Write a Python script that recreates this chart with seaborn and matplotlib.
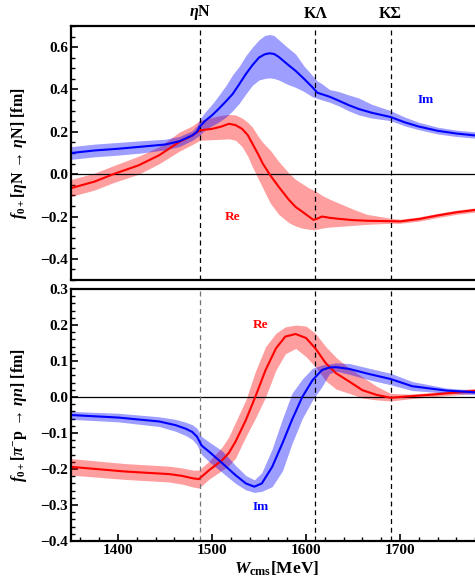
import numpy as np
import pandas as pd
import seaborn as sns
import matplotlib.pyplot as plt
import matplotlib.transforms as mtransforms
from matplotlib.ticker import MultipleLocator

# ---- top panel: f0+ [eta N -> eta N] ----
w_im_top = [1350, 1375, 1400, 1425, 1450, 1465, 1479, 1484, 1487, 1493, 1500, 1507, 1515,
            1522, 1529, 1536, 1543, 1550, 1556, 1561, 1566, 1571, 1580, 1589, 1598, 1607,
            1612, 1616, 1625, 1635, 1645, 1656, 1670, 1690, 1705, 1720, 1740, 1760, 1780, 1800]
im_top = [0.100, 0.112, 0.120, 0.130, 0.140, 0.155, 0.183, 0.200, 0.225, 0.253, 0.278, 0.308,
          0.345, 0.379, 0.425, 0.473, 0.515, 0.551, 0.566, 0.571, 0.568, 0.554, 0.520, 0.488,
          0.450, 0.410, 0.385, 0.379, 0.366, 0.347, 0.327, 0.308, 0.290, 0.270, 0.245, 0.225,
          0.205, 0.192, 0.183, 0.176]
im_top_lo = [0.070, 0.082, 0.090, 0.100, 0.115, 0.130, 0.160, 0.175, 0.185, 0.210, 0.228, 0.246,
             0.270, 0.300, 0.335, 0.379, 0.420, 0.445, 0.452, 0.455, 0.452, 0.445, 0.425, 0.410,
             0.390, 0.365, 0.358, 0.352, 0.340, 0.322, 0.300, 0.280, 0.265, 0.253, 0.228, 0.210,
             0.190, 0.178, 0.170, 0.163]
im_top_hi = [0.130, 0.142, 0.150, 0.158, 0.165, 0.178, 0.205, 0.230, 0.260, 0.295, 0.330, 0.371,
             0.420, 0.470, 0.510, 0.560, 0.600, 0.635, 0.655, 0.660, 0.655, 0.635, 0.600, 0.567,
             0.510, 0.465, 0.440, 0.430, 0.400, 0.390, 0.375, 0.360, 0.330, 0.300, 0.270, 0.245,
             0.222, 0.208, 0.200, 0.190]

w_re_top = [1350, 1375, 1395, 1422, 1444, 1465, 1479, 1487, 1500, 1510, 1518, 1525, 1532, 1538,
            1543, 1549, 1554, 1562, 1571, 1582, 1589, 1596, 1603, 1608, 1612, 1617, 1625, 1635,
            1650, 1665, 1690, 1700, 1720, 1740, 1760, 1780, 1800]
re_top = [-0.066, -0.035, 0.000, 0.042, 0.090, 0.152, 0.183, 0.207, 0.214, 0.225, 0.238, 0.232,
          0.214, 0.185, 0.144, 0.095, 0.050, -0.005, -0.060, -0.122, -0.155, -0.177, -0.200,
          -0.216, -0.210, -0.200, -0.206, -0.211, -0.217, -0.220, -0.222, -0.223, -0.212,
          -0.195, -0.180, -0.169, -0.160]
re_top_lo = [-0.105, -0.075, -0.040, 0.000, 0.050, 0.108, 0.140, 0.160, 0.163, 0.165, 0.167,
             0.160, 0.130, 0.085, 0.034, -0.020, -0.065, -0.137, -0.190, -0.230, -0.245, -0.255,
             -0.260, -0.263, -0.260, -0.255, -0.250, -0.247, -0.242, -0.237, -0.232, -0.232,
             -0.222, -0.205, -0.190, -0.179, -0.170]
re_top_hi = [-0.025, 0.005, 0.040, 0.085, 0.130, 0.198, 0.228, 0.254, 0.268, 0.278, 0.282, 0.280,
             0.265, 0.245, 0.222, 0.180, 0.150, 0.113, 0.060, 0.004, -0.025, -0.045, -0.065,
             -0.075, -0.085, -0.100, -0.118, -0.137, -0.165, -0.190, -0.208, -0.213, -0.202,
             -0.185, -0.170, -0.159, -0.150]

# ---- bottom panel: f0+ [pi- p -> eta n] ----
w_im_bot = [1350, 1400, 1444, 1461, 1472, 1479, 1484, 1489, 1497, 1511, 1525, 1536, 1545, 1553,
            1564, 1575, 1585, 1596, 1607, 1617, 1625, 1632, 1646, 1667, 1690, 1713, 1749, 1780, 1800]
im_bot = [-0.050, -0.057, -0.068, -0.078, -0.088, -0.097, -0.110, -0.135, -0.152, -0.184, -0.217,
          -0.240, -0.249, -0.240, -0.194, -0.128, -0.064, 0.000, 0.047, 0.075, 0.082, 0.083,
          0.078, 0.064, 0.050, 0.030, 0.018, 0.013, 0.011]
im_bot_lo = [-0.062, -0.069, -0.082, -0.095, -0.107, -0.118, -0.133, -0.160, -0.180, -0.210,
             -0.240, -0.258, -0.265, -0.262, -0.249, -0.205, -0.130, -0.060, -0.008, 0.029,
             0.065, 0.072, 0.063, 0.048, 0.034, 0.018, 0.011, 0.007, 0.006]
im_bot_hi = [-0.040, -0.045, -0.055, -0.062, -0.070, -0.077, -0.087, -0.110, -0.125, -0.150,
             -0.190, -0.218, -0.230, -0.210, -0.144, -0.060, 0.010, 0.050, 0.080, 0.089, 0.092,
             0.095, 0.093, 0.080, 0.066, 0.043, 0.025, 0.019, 0.016]

w_re_bot = [1350, 1408, 1454, 1468, 1480, 1486, 1497, 1511, 1518, 1525, 1536, 1546, 1557, 1568,
            1578, 1589, 1600, 1610, 1621, 1632, 1646, 1660, 1675, 1690, 1710, 1731, 1780, 1800]
re_bot = [-0.194, -0.207, -0.214, -0.219, -0.226, -0.228, -0.203, -0.175, -0.155, -0.124, -0.064,
          0.000, 0.075, 0.135, 0.168, 0.175, 0.164, 0.135, 0.094, 0.066, 0.043, 0.019, 0.006,
          -0.002, 0.002, 0.006, 0.017, 0.020]
re_bot_lo = [-0.217, -0.229, -0.236, -0.242, -0.250, -0.253, -0.228, -0.203, -0.190, -0.170,
             -0.110, -0.060, 0.000, 0.075, 0.120, 0.135, 0.112, 0.084, 0.045, 0.022, 0.010,
             -0.003, -0.008, -0.011, -0.005, 0.000, 0.010, 0.013]
re_bot_hi = [-0.171, -0.185, -0.192, -0.197, -0.203, -0.203, -0.178, -0.138, -0.110, -0.070,
             -0.008, 0.070, 0.140, 0.177, 0.195, 0.200, 0.197, 0.177, 0.140, 0.110, 0.080,
             0.056, 0.030, 0.010, 0.008, 0.012, 0.024, 0.027]

thresholds = [1487, 1610, 1690]
threshold_names = [r"$\eta$N", "K\u039b", "K\u03a3"]

sns.set_style("ticks")
plt.rcParams["font.family"] = ["Liberation Serif", "DejaVu Serif"]
plt.rcParams["font.weight"] = "bold"
plt.rcParams["axes.labelweight"] = "bold"
plt.rcParams["mathtext.fontset"] = "custom"
plt.rcParams["mathtext.rm"] = "Liberation Serif:bold"
plt.rcParams["mathtext.it"] = "Liberation Serif:italic:bold"
plt.rcParams["mathtext.bf"] = "Liberation Serif:bold"
for key in ["text.color", "axes.labelcolor", "xtick.color", "ytick.color", "axes.edgecolor"]:
    plt.rcParams[key] = "black"

fig = plt.figure(figsize=(4.75, 5.84), dpi=100)
ax1 = fig.add_axes([0.1495, 0.5205, 0.8905, 0.435])
ax2 = fig.add_axes([0.1495, 0.0736, 0.8905, 0.4315])

BLUE, RED = "#0000ff", "#ff0000"


def draw(ax, w, c, lo, hi, color):
    ax.fill_between(w, lo, hi, color=color, alpha=0.38, linewidth=0)
    df = pd.DataFrame({"W": w, "f": c})
    sns.lineplot(data=df, x="W", y="f", ax=ax, color=color, linewidth=1.5)


draw(ax1, w_re_top, re_top, re_top_lo, re_top_hi, RED)
draw(ax1, w_im_top, im_top, im_top_lo, im_top_hi, BLUE)
draw(ax2, w_re_bot, re_bot, re_bot_lo, re_bot_hi, RED)
draw(ax2, w_im_bot, im_bot, im_bot_lo, im_bot_hi, BLUE)

for ax in (ax1, ax2):
    ax.set_xlim(1350, 1800)
    ax.axhline(0, color="black", linewidth=0.9, zorder=1)
    for i, t in enumerate(thresholds):
        col = "0.45" if (ax is ax2 and i == 0) else "black"
        ax.axvline(t, color=col, linewidth=0.9, linestyle=(0, (4, 3)), zorder=1)
    for s in ax.spines.values():
        s.set_linewidth(1.6)
    ax.spines["right"].set_visible(False)
    ax.tick_params(axis="both", direction="in", labelsize=11, pad=2, width=1.2, length=5)
    ax.tick_params(which="minor", direction="in", width=1, length=3)
    ax.set_xlabel("")

ax1.set_ylim(-0.5, 0.7)
ax1.yaxis.set_minor_locator(MultipleLocator(0.05))
ax1.set_yticks([-0.4, -0.2, 0.0, 0.2, 0.4, 0.6])
ax1.set_yticklabels(["\u22120.4", "\u22120.2", "0.0", "0.2", "0.4", "0.6"], fontweight="bold")
ax1.tick_params(axis="x", which="both", bottom=False, labelbottom=False)
ax1.set_ylabel(r"$f_{0+}$[$\eta$N$\,\rightarrow\,\eta$N] [fm]", fontsize=11.5)

ax2.set_ylim(-0.4, 0.3)
ax2.set_yticks([-0.4, -0.3, -0.2, -0.1, 0.0, 0.1, 0.2, 0.3])
ax2.set_yticklabels(["\u22120.4", "\u22120.3", "\u22120.2", "\u22120.1", "0.0", "0.1", "0.2", "0.3"],
                    fontweight="bold")
ax2.yaxis.set_minor_locator(MultipleLocator(0.02))
ax2.set_xticks([1400, 1500, 1600, 1700])
ax2.set_xticklabels(["1400", "1500", "1600", "1700"], fontweight="bold")
ax2.xaxis.set_minor_locator(MultipleLocator(20))
ax2.set_ylabel(r"$f_{0+}$[$\pi^{-}$p$\,\rightarrow\,\eta n$] [fm]", fontsize=11.5)
ax2.set_xlabel(r"$W_{\mathrm{cms}}$[MeV]", fontsize=12.5)
ax2.xaxis.set_label_coords(0.487, -0.075)

for ax in (ax1, ax2):
    ax.yaxis.set_label_coords(-0.1, 0.5)

trans = mtransforms.blended_transform_factory(ax1.transData, ax1.transAxes)
for t, name in zip(thresholds, threshold_names):
    ax1.text(t, 1.015, name, transform=trans, ha="center", va="bottom", fontsize=11.5,
             fontweight="bold")

ax1.text(1727, 0.35, "Im", color=BLUE, fontsize=9.5, fontweight="bold", ha="center", va="center")
ax1.text(1522, -0.2, "Re", color=RED, fontsize=9.5, fontweight="bold", ha="center", va="center")
ax2.text(1552, 0.2, "Re", color=RED, fontsize=9.5, fontweight="bold", ha="center", va="center")
ax2.text(1552, -0.305, "Im", color=BLUE, fontsize=9.5, fontweight="bold", ha="center", va="center")

fig.savefig("out.png", dpi=100)
